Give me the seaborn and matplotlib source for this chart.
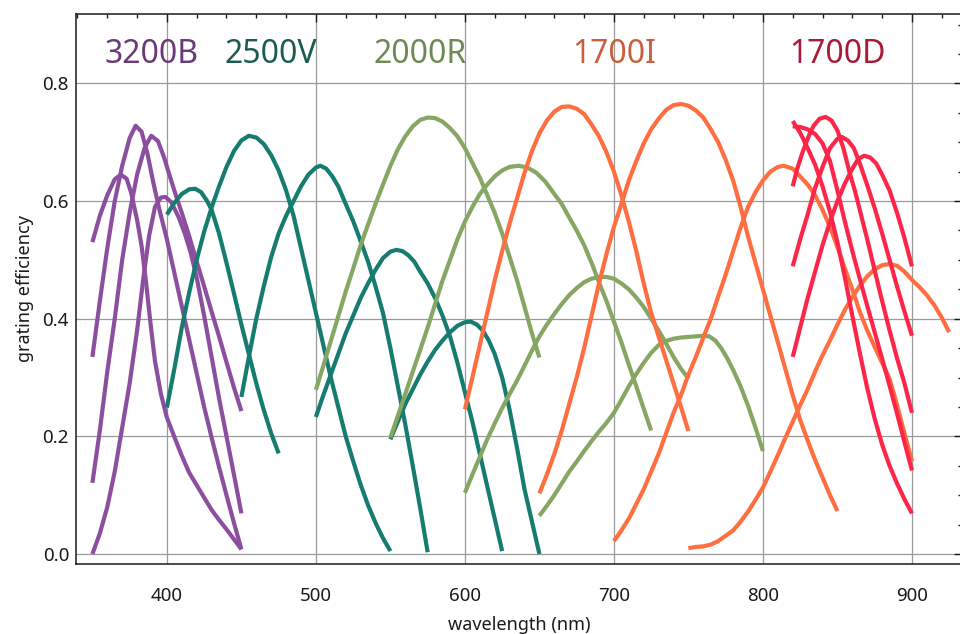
import matplotlib
matplotlib.use("Agg")
import matplotlib.pyplot as plt
from matplotlib.ticker import MultipleLocator
import pandas as pd
import seaborn as sns

# ---- 3200B grating settings ----
b1_nm = [350, 355, 360, 365, 369, 373, 376, 380, 383, 386, 389, 392, 396, 400, 405, 410, 415, 420, 425, 430, 435, 440, 445, 450]
b1_eff = [0.530, 0.575, 0.610, 0.637, 0.645, 0.638, 0.614, 0.568, 0.524, 0.462, 0.392, 0.328, 0.272, 0.232, 0.199, 0.167, 0.138, 0.117, 0.096, 0.075, 0.058, 0.042, 0.025, 0.008]
b2_nm = [350, 355, 360, 365, 370, 375, 379, 383, 387, 391, 395, 400, 405, 410, 415, 420, 425, 430, 435, 440, 445, 450]
b2_eff = [0.335, 0.430, 0.520, 0.600, 0.660, 0.707, 0.728, 0.718, 0.680, 0.630, 0.585, 0.535, 0.478, 0.421, 0.364, 0.307, 0.250, 0.198, 0.148, 0.100, 0.053, 0.008]
b3_nm = [350, 355, 360, 365, 370, 375, 380, 385, 389.5, 394, 398, 402, 406, 410, 415, 420, 425, 430, 435, 440, 445, 450]
b3_eff = [0.121, 0.210, 0.310, 0.400, 0.500, 0.580, 0.645, 0.690, 0.711, 0.702, 0.675, 0.642, 0.610, 0.580, 0.540, 0.497, 0.455, 0.412, 0.370, 0.326, 0.283, 0.243]
b4_nm = [350, 355, 360, 365, 370, 375, 380, 384, 388, 392, 396, 399, 403, 408, 412, 416, 420, 425, 430, 435, 440, 445, 450]
b4_eff = [0.000, 0.035, 0.080, 0.140, 0.215, 0.290, 0.380, 0.465, 0.540, 0.590, 0.606, 0.607, 0.598, 0.572, 0.545, 0.512, 0.470, 0.405, 0.335, 0.265, 0.200, 0.135, 0.069]

# ---- 2500V grating settings ----
v1_nm = [400, 405, 410, 415, 419, 423, 427, 430, 435, 440, 445, 450, 455, 460, 465, 470, 475]
v1_eff = [0.577, 0.597, 0.612, 0.620, 0.621, 0.615, 0.600, 0.585, 0.545, 0.495, 0.443, 0.390, 0.340, 0.290, 0.245, 0.205, 0.171]
v2_nm = [400, 405, 410, 415, 420, 425, 430, 435, 440, 445, 450, 455, 460, 465, 470, 475, 480, 485, 490, 495, 500, 505, 510, 515, 520, 525, 530, 535, 540, 545, 550]
v2_eff = [0.249, 0.315, 0.385, 0.445, 0.500, 0.548, 0.589, 0.625, 0.658, 0.685, 0.703, 0.711, 0.708, 0.697, 0.678, 0.652, 0.618, 0.575, 0.520, 0.465, 0.410, 0.355, 0.300, 0.250, 0.200, 0.158, 0.118, 0.083, 0.053, 0.027, 0.005]
v3_nm = [450, 455, 460, 465, 470, 475, 480, 485, 490, 495, 500, 503, 507, 511, 515, 520, 525, 530, 535, 540, 545, 550, 555, 560, 565, 570, 575]
v3_eff = [0.267, 0.335, 0.400, 0.455, 0.505, 0.545, 0.575, 0.600, 0.625, 0.645, 0.657, 0.660, 0.655, 0.642, 0.625, 0.595, 0.566, 0.532, 0.497, 0.455, 0.410, 0.350, 0.285, 0.220, 0.150, 0.078, 0.003]
v4_nm = [500, 505, 510, 515, 520, 525, 530, 535, 540, 545, 550, 554, 558, 562, 566, 570, 575, 580, 585, 590, 595, 600, 605, 610, 615, 620, 625]
v4_eff = [0.233, 0.270, 0.305, 0.340, 0.375, 0.405, 0.435, 0.460, 0.483, 0.503, 0.514, 0.517, 0.515, 0.508, 0.497, 0.480, 0.460, 0.435, 0.405, 0.370, 0.325, 0.275, 0.225, 0.170, 0.115, 0.060, 0.005]
v5_nm = [550, 555, 560, 565, 570, 575, 580, 585, 590, 595, 600, 604, 608, 612, 616, 620, 625, 630, 635, 640, 645, 650]
v5_eff = [0.195, 0.225, 0.255, 0.280, 0.305, 0.327, 0.347, 0.363, 0.377, 0.388, 0.394, 0.395, 0.390, 0.380, 0.363, 0.340, 0.300, 0.245, 0.180, 0.110, 0.055, 0.000]

# ---- 2000R grating settings ----
r1_nm = [500, 505, 510, 515, 520, 525, 530, 535, 540, 545, 550, 555, 560, 565, 570, 575, 580, 585, 590, 595, 600, 605, 610, 615, 620, 625, 630, 635, 640, 645, 650]
r1_eff = [0.279, 0.320, 0.362, 0.404, 0.446, 0.485, 0.525, 0.560, 0.595, 0.628, 0.660, 0.688, 0.710, 0.727, 0.738, 0.742, 0.741, 0.735, 0.724, 0.710, 0.690, 0.665, 0.640, 0.610, 0.580, 0.545, 0.505, 0.465, 0.420, 0.375, 0.334]
r2_nm = [550, 555, 560, 565, 570, 575, 580, 585, 590, 595, 600, 605, 610, 615, 620, 625, 630, 636, 642, 648, 654, 660, 665, 670, 675, 680, 685, 690, 695, 700, 705, 710, 715, 720, 725]
r2_eff = [0.198, 0.235, 0.272, 0.310, 0.347, 0.385, 0.425, 0.465, 0.500, 0.535, 0.565, 0.590, 0.612, 0.628, 0.642, 0.652, 0.658, 0.660, 0.657, 0.648, 0.633, 0.612, 0.595, 0.572, 0.550, 0.525, 0.495, 0.462, 0.430, 0.395, 0.360, 0.322, 0.285, 0.247, 0.210]
r3_nm = [600, 605, 610, 615, 620, 625, 630, 635, 640, 645, 650, 655, 660, 665, 670, 675, 680, 685, 690, 695, 700, 705, 710, 715, 720, 725, 730, 735, 740, 745, 750]
r3_eff = [0.104, 0.135, 0.165, 0.195, 0.222, 0.248, 0.272, 0.295, 0.320, 0.346, 0.370, 0.390, 0.408, 0.425, 0.440, 0.452, 0.462, 0.468, 0.471, 0.471, 0.468, 0.460, 0.450, 0.436, 0.420, 0.400, 0.380, 0.358, 0.335, 0.315, 0.298]
r4_nm = [650, 655, 660, 665, 670, 675, 680, 685, 690, 695, 700, 705, 710, 715, 720, 725, 730, 735, 740, 745, 750, 755, 760, 764, 768, 772, 776, 780, 785, 790, 795, 800]
r4_eff = [0.065, 0.082, 0.100, 0.120, 0.140, 0.157, 0.175, 0.192, 0.208, 0.223, 0.240, 0.262, 0.285, 0.306, 0.325, 0.342, 0.355, 0.362, 0.366, 0.368, 0.369, 0.370, 0.371, 0.370, 0.363, 0.350, 0.333, 0.313, 0.285, 0.252, 0.215, 0.175]

# ---- 1700I grating settings ----
i1_nm = [600, 605, 610, 615, 620, 625, 630, 635, 640, 645, 650, 655, 660, 665, 670, 675, 680, 685, 690, 695, 700, 705, 710, 715, 720, 725, 730, 735, 740, 745, 750]
i1_eff = [0.246, 0.300, 0.355, 0.410, 0.465, 0.515, 0.562, 0.605, 0.648, 0.685, 0.715, 0.737, 0.752, 0.760, 0.761, 0.757, 0.748, 0.730, 0.710, 0.683, 0.650, 0.610, 0.565, 0.515, 0.460, 0.410, 0.370, 0.330, 0.290, 0.250, 0.209]
i2_nm = [650, 655, 660, 665, 670, 675, 680, 685, 690, 695, 700, 705, 710, 715, 720, 725, 730, 735, 740, 745, 750, 755, 760, 765, 770, 775, 780, 785, 790, 795, 800, 805, 810, 815, 820, 825, 830, 835, 840, 845, 850]
i2_eff = [0.103, 0.135, 0.170, 0.210, 0.255, 0.300, 0.350, 0.405, 0.460, 0.510, 0.556, 0.595, 0.635, 0.668, 0.698, 0.722, 0.740, 0.755, 0.763, 0.765, 0.762, 0.754, 0.742, 0.722, 0.700, 0.670, 0.635, 0.590, 0.540, 0.495, 0.450, 0.405, 0.360, 0.315, 0.270, 0.228, 0.193, 0.160, 0.130, 0.100, 0.073]
i3_nm = [700, 705, 710, 715, 720, 725, 730, 735, 740, 745, 750, 755, 760, 765, 770, 775, 780, 785, 790, 795, 800, 805, 810, 814, 820, 825, 830, 835, 840, 845, 850, 855, 860, 865, 870, 875, 880, 885, 890, 895, 900]
i3_eff = [0.022, 0.040, 0.060, 0.085, 0.110, 0.140, 0.170, 0.205, 0.240, 0.270, 0.305, 0.335, 0.368, 0.400, 0.438, 0.475, 0.515, 0.555, 0.590, 0.615, 0.635, 0.650, 0.658, 0.660, 0.655, 0.642, 0.628, 0.610, 0.585, 0.556, 0.522, 0.485, 0.450, 0.412, 0.380, 0.352, 0.325, 0.298, 0.253, 0.205, 0.158]
i4_nm = [750, 755, 760, 765, 770, 775, 780, 785, 790, 795, 800, 805, 810, 815, 820, 825, 830, 835, 840, 845, 850, 855, 860, 865, 870, 875, 880, 885, 890, 895, 900, 905, 910, 915, 920, 925]
i4_eff = [0.010, 0.012, 0.013, 0.016, 0.022, 0.031, 0.040, 0.055, 0.072, 0.092, 0.113, 0.140, 0.168, 0.197, 0.225, 0.253, 0.280, 0.310, 0.338, 0.363, 0.390, 0.415, 0.437, 0.456, 0.472, 0.484, 0.491, 0.493, 0.490, 0.480, 0.466, 0.454, 0.440, 0.423, 0.402, 0.377]

# ---- 1700D grating settings ----
d1_nm = [820, 823, 827, 831, 834, 838, 842, 846, 850, 854, 858, 862, 866, 870, 875, 880, 885, 890, 895, 900]
d1_eff = [0.625, 0.655, 0.686, 0.712, 0.728, 0.740, 0.743, 0.737, 0.720, 0.690, 0.650, 0.615, 0.575, 0.535, 0.482, 0.430, 0.380, 0.333, 0.290, 0.240]
d2_nm = [820, 825, 830, 835, 840, 845, 850, 855, 860, 865, 870, 875, 880, 885, 890, 895, 900]
d2_eff = [0.727, 0.726, 0.722, 0.714, 0.698, 0.668, 0.618, 0.565, 0.515, 0.468, 0.422, 0.377, 0.332, 0.286, 0.239, 0.190, 0.142]
d3_nm = [820, 825, 830, 835, 840, 845, 850, 855, 860, 865, 870, 875, 880, 885, 890, 895, 900]
d3_eff = [0.736, 0.716, 0.690, 0.662, 0.625, 0.582, 0.530, 0.470, 0.405, 0.342, 0.282, 0.230, 0.186, 0.150, 0.120, 0.093, 0.069]
d4_nm = [820, 825, 830, 835, 840, 845, 850, 853, 857, 861, 865, 870, 875, 880, 885, 890, 895, 900]
d4_eff = [0.489, 0.535, 0.577, 0.622, 0.658, 0.690, 0.706, 0.709, 0.703, 0.690, 0.664, 0.627, 0.588, 0.545, 0.500, 0.455, 0.412, 0.371]
d5_nm = [820, 825, 830, 835, 840, 845, 850, 855, 860, 864, 868, 872, 876, 880, 885, 890, 895, 900]
d5_eff = [0.335, 0.385, 0.435, 0.480, 0.525, 0.565, 0.600, 0.630, 0.655, 0.672, 0.677, 0.674, 0.664, 0.645, 0.618, 0.580, 0.537, 0.489]

gratings = ["3200B", "2500V", "2000R", "1700I", "1700D"]
line_colors = ["#8c4f9f", "#167c70", "#86a764", "#ff6e40", "#fd2648"]
label_colors = ["#6a3b78", "#1a5c54", "#6d8a55", "#c8603e", "#a81b37"]
label_x = [390, 470, 570, 700, 850]
label_y = 0.85

settings = {
    "3200B": [(b1_nm, b1_eff), (b2_nm, b2_eff), (b3_nm, b3_eff), (b4_nm, b4_eff)],
    "2500V": [(v1_nm, v1_eff), (v2_nm, v2_eff), (v3_nm, v3_eff), (v4_nm, v4_eff), (v5_nm, v5_eff)],
    "2000R": [(r1_nm, r1_eff), (r2_nm, r2_eff), (r3_nm, r3_eff), (r4_nm, r4_eff)],
    "1700I": [(i1_nm, i1_eff), (i2_nm, i2_eff), (i3_nm, i3_eff), (i4_nm, i4_eff)],
    "1700D": [(d1_nm, d1_eff), (d2_nm, d2_eff), (d3_nm, d3_eff), (d4_nm, d4_eff), (d5_nm, d5_eff)],
}

rows = []
for g in gratings:
    for k, (nm, eff) in enumerate(settings[g]):
        for x, y in zip(nm, eff):
            rows.append((g, f"{g}-{k}", x, y))
df = pd.DataFrame(rows, columns=["grating", "setting", "wavelength", "efficiency"])

sns.set_theme(style="white")
plt.rcParams["font.family"] = ["Noto Sans", "DejaVu Sans"]

fig = plt.figure(figsize=(9.6, 6.34), dpi=100)
ax = fig.add_axes([76 / 960, 1 - 564 / 634, (962 - 76) / 960, (564 - 14) / 634])

sns.lineplot(
    data=df, x="wavelength", y="efficiency",
    hue="grating", hue_order=gratings, palette=dict(zip(gratings, line_colors)),
    units="setting", estimator=None, sort=False,
    linewidth=3.0, solid_capstyle="butt", solid_joinstyle="round",
    legend=False, ax=ax,
)

for name, x, c in zip(gratings, label_x, label_colors):
    ax.text(x, label_y, name, color=c, fontsize=23, ha="center", va="center")

ax.set_xlim(339, 933.6)
ax.set_ylim(-0.017, 0.918)
ax.xaxis.set_major_locator(MultipleLocator(100))
ax.xaxis.set_minor_locator(MultipleLocator(20))
ax.yaxis.set_major_locator(MultipleLocator(0.2))
ax.yaxis.set_minor_locator(MultipleLocator(0.05))

ax.grid(True, which="major", color="#9a9a9a", linewidth=0.9)
ax.set_axisbelow(True)

for side in ["left", "bottom", "top", "right"]:
    ax.spines[side].set_visible(True)
    ax.spines[side].set_color("#1a1a1a")
    ax.spines[side].set_linewidth(1.1)

ax.tick_params(which="both", direction="in", top=True, right=True,
               color="#1a1a1a", width=1.0, labelsize=13.5, labelcolor="#1a1a1a")
ax.tick_params(which="major", length=5.5)
ax.tick_params(which="minor", length=3.2)
ax.tick_params(axis="x", pad=16.5)
ax.tick_params(axis="y", pad=5)

ax.set_xlabel("wavelength (nm)", fontsize=13, color="#1a1a1a", labelpad=8)
ax.set_ylabel("grating efficiency", fontsize=13, color="#1a1a1a", labelpad=6)

fig.savefig("out.png", dpi=100)
